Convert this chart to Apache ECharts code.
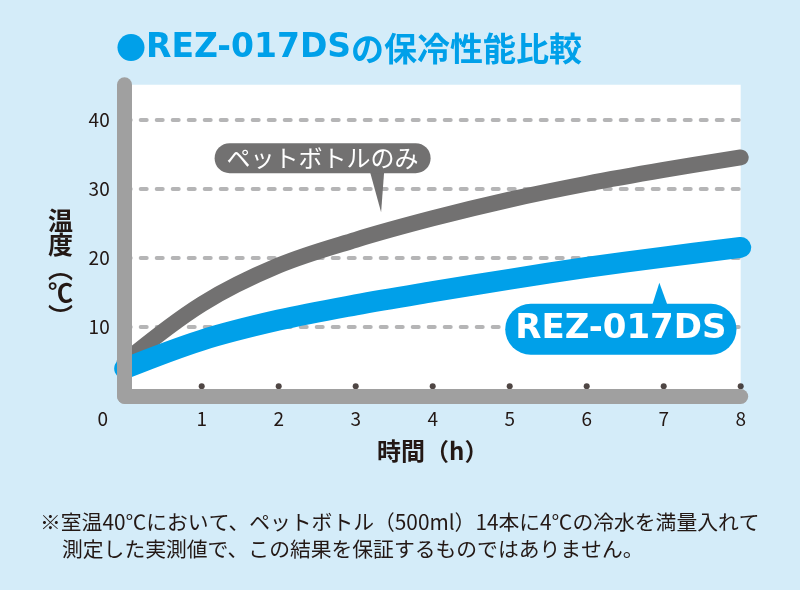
<!DOCTYPE html>
<html>
<head>
<meta charset="utf-8">
<script src="https://cdn.jsdelivr.net/npm/echarts@6/dist/echarts.min.js"></script>
<style>
html,body{margin:0;padding:0;background:#D4ECF9;}
#chart{width:800px;height:590px;}
</style>
</head>
<body>
<div id="chart"></div>
<script>
// ---- data ----
const hours = [0, 1, 2, 3, 4, 5, 6, 7, 8];
const petBottleOnly = [5.0, 13.3, 18.9, 22.6, 25.7, 28.4, 30.7, 32.7, 34.5];
const rez017ds = [4.0, 8.1, 11.0, 13.2, 15.1, 16.9, 18.6, 20.1, 21.5];
const xTicks = [1, 2, 3, 4, 5, 6, 7, 8];
const gridLevels = [10, 20, 30, 40];
const seriesNames = ['ペットボトルのみ', 'REZ-017DS'];
// callout tail tips (data units)
const calloutPet = [3.33, 26.6];
const calloutRez = [6.95, 16.4];

const yName = '温\n度\n︵\n℃\n︶';
const xName = '時間（h）';
const note1 = '※室温40℃において、ペットボトル（500ml）14本に4℃の冷水を満量入れて';
const note2 = '測定した実測値で、この結果を保証するものではありません。';

const JP = '"Noto Sans CJK JP", sans-serif';
const DARK = '#231815';
const BLUE = '#00A0E9';
const GRAY = '#727171';
const AXIS = '#A0A0A0';

const chart = echarts.init(document.getElementById('chart'));
const option = {
  backgroundColor: '#D4ECF9',
  animation: false,
  title: [
    {
      text: '{d|●}{e|REZ-017DS}{j|の保冷性能比較}',
      left: 116, top: 31, padding: 0,
      textStyle: {
        rich: {
          d: {fontFamily: JP, fontSize: 30, color: BLUE, lineHeight: 34},
          e: {fontFamily: '"DejaVu Sans"', fontWeight: 'bold', fontSize: 33, color: BLUE, lineHeight: 34},
          j: {fontFamily: JP, fontWeight: 'bold', fontSize: 33, color: BLUE, lineHeight: 34}
        }
      }
    },
    {
      text: yName, left: 48, top: 208, padding: 0,
      textStyle: {fontFamily: JP, fontWeight: 'bold', fontSize: 25, lineHeight: 24, color: DARK}
    },
    {
      text: note1, left: 40, top: 511, padding: 0,
      textStyle: {fontFamily: JP, fontWeight: 'normal', fontSize: 20.8, lineHeight: 22, color: DARK}
    },
    {
      text: note2, left: 62, top: 538, padding: 0,
      textStyle: {fontFamily: JP, fontWeight: 'normal', fontSize: 20.8, lineHeight: 22, color: DARK}
    }
  ],
  grid: {
    left: 124.7, right: 59.3, top: 84.8, bottom: 193.8,
    show: true, backgroundColor: '#FFFFFF', borderWidth: 0
  },
  xAxis: {
    type: 'value', min: 0, max: 8, interval: 1, z: 10,
    axisLine: {show: true, lineStyle: {color: AXIS, width: 15, cap: 'round'}},
    axisTick: {show: false},
    splitLine: {show: false},
    axisLabel: {
      show: true, showMinLabel: true, showMaxLabel: true, margin: 13,
      fontFamily: JP, fontSize: 19, color: DARK,
      formatter: function (v) { return v === 0 ? '{z|0}' : String(v); },
      rich: {z: {fontFamily: JP, fontSize: 19, color: DARK, padding: [0, 44, 0, 0]}}
    },
    name: xName, nameLocation: 'middle', nameGap: 43,
    nameTextStyle: {fontFamily: JP, fontWeight: 'bold', fontSize: 24, color: DARK}
  },
  yAxis: {
    type: 'value', min: 0, max: 45, interval: 10, z: 10,
    axisLine: {show: true, onZero: false, lineStyle: {color: AXIS, width: 15, cap: 'round'}},
    axisTick: {show: false},
    splitLine: {show: false},
    axisLabel: {
      margin: 15, fontFamily: JP, fontSize: 19, color: DARK,
      formatter: function (v) { return (v > 0 && v % 10 === 0) ? String(v) : ''; }
    }
  },
  series: [
    {
      type: 'line', data: [], z: 1, silent: true,
      markLine: {
        silent: true, z: 1, animation: false,
        symbol: ['none', 'none'],
        label: {show: false},
        lineStyle: {color: '#B5B5B6', width: 4, type: [6, 10], cap: 'round'},
        data: gridLevels.map(v => ({yAxis: v}))
      }
    },
    {
      name: seriesNames[0], type: 'line', z: 6, clip: false,
      data: hours.map((h, i) => [h, petBottleOnly[i]]),
      smooth: 0.35, showSymbol: false, symbol: 'none',
      lineStyle: {color: GRAY, width: 16, cap: 'round', join: 'round'},
      markPoint: {
        z: 8, animation: false, silent: true,
        symbol: 'path://M0,0 L14,0 L11,40 Z', symbolSize: [14, 40], symbolOffset: [-4, -20],
        symbolKeepAspect: false,
        itemStyle: {color: GRAY},
        label: {
          show: true, position: 'top', distance: 0, offset: [-54.5, 1],
          formatter: seriesNames[0],
          fontFamily: JP, fontSize: 24, lineHeight: 26, color: '#FFFFFF',
          backgroundColor: GRAY, borderRadius: 15, padding: [2, 12, 2, 12]
        },
        data: [{coord: calloutPet}]
      }
    },
    {
      name: seriesNames[1], type: 'line', z: 6, clip: false,
      data: hours.map((h, i) => [h, rez017ds[i]]),
      smooth: 0.35, showSymbol: false, symbol: 'none',
      lineStyle: {color: BLUE, width: 21, cap: 'round', join: 'round'},
      markPoint: {
        z: 8, animation: false, silent: true,
        symbol: 'path://M7,0 L15,22 L0,22 Z', symbolSize: [15, 22], symbolOffset: [0, 11],
        symbolKeepAspect: false,
        itemStyle: {color: BLUE},
        label: {
          show: true, position: 'bottom', distance: 0, offset: [-39, -1],
          formatter: seriesNames[1],
          fontFamily: '"DejaVu Sans"', fontWeight: 'bold', fontSize: 34, lineHeight: 43, color: '#FFFFFF',
          backgroundColor: BLUE, borderRadius: 26, padding: [4, 10, 4, 10]
        },
        data: [{coord: calloutRez}]
      }
    },
    {
      type: 'scatter', z: 6, clip: false, silent: true,
      data: xTicks.map(h => [h, 0]),
      symbol: 'circle', symbolSize: 6, symbolOffset: [0, -10],
      itemStyle: {color: DARK}
    }
  ]
};
chart.setOption(option);
</script>
</body>
</html>
